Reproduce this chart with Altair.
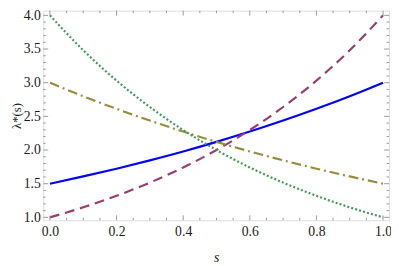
import altair as alt
import pandas as pd

s_vals = [0.0, 0.1, 0.2, 0.3, 0.4, 0.5, 0.6, 0.7, 0.8, 0.9, 1.0]
blue_vals = [1.5, 1.608, 1.723, 1.847, 1.979, 2.121, 2.274, 2.437, 2.612, 2.799, 3.0]
purple_vals = [1.0, 1.149, 1.320, 1.516, 1.741, 2.0, 2.297, 2.639, 3.031, 3.482, 4.0]
olive_vals = [3.0, 2.799, 2.612, 2.437, 2.274, 2.121, 1.979, 1.847, 1.723, 1.608, 1.5]
green_vals = [4.0, 3.482, 3.031, 2.639, 2.297, 2.0, 1.741, 1.516, 1.320, 1.149, 1.0]

x_major = [0.0, 0.2, 0.4, 0.6, 0.8, 1.0]
x_minor = [0.05, 0.1, 0.15, 0.25, 0.3, 0.35, 0.45, 0.5, 0.55, 0.65, 0.7, 0.75, 0.85, 0.9, 0.95]
y_major = [1.0, 1.5, 2.0, 2.5, 3.0, 3.5, 4.0]
y_minor = [1.1, 1.2, 1.3, 1.4, 1.6, 1.7, 1.8, 1.9, 2.1, 2.2, 2.3, 2.4,
           2.6, 2.7, 2.8, 2.9, 3.1, 3.2, 3.3, 3.4, 3.6, 3.7, 3.8, 3.9]

W, H = 353, 214
xs = alt.Scale(domain=[-0.02, 1.018], nice=False, zero=False)
ys = alt.Scale(domain=[0.957, 4.07], nice=False, zero=False)

series = [
    (blue_vals, "#0000FF", []),
    (purple_vals, "#993D71", [10, 6]),
    (olive_vals, "#998C3D", [10, 4, 2, 4]),
    (green_vals, "#3D9954", [2, 2.2]),
]

FONT = "Liberation Serif, Times New Roman, DejaVu Serif, serif"

axis_x = alt.Axis(values=x_major, format=".1f", ticks=False, domain=False, grid=False,
                  labelPadding=5, title="s", titleFontStyle="italic",
                  titleY=38, titleBaseline="middle")
axis_y = alt.Axis(values=y_major, format=".1f", ticks=False, domain=False, grid=False,
                  labelPadding=3, title="λ*(s)", titleX=-27, titleY=H / 2,
                  titleAngle=270, titleAlign="center", titleBaseline="middle",
                  titleFontSize=13)

layers = []
for i, (vals, col, dash) in enumerate(series):
    df = pd.DataFrame({"s": s_vals, "v": vals})
    kw = dict(color=col, strokeWidth=2.2, interpolate="monotone", clip=True)
    if dash:
        kw["strokeDash"] = dash
    enc = dict(x=alt.X("s:Q", scale=xs, axis=axis_x), y=alt.Y("v:Q", scale=ys, axis=axis_y))
    layers.append(alt.Chart(df).mark_line(**kw).encode(**enc))

tick_col = "#999999"
def xticks(vals, length):
    df = pd.DataFrame({"t": vals})
    bottom = alt.Chart(df).mark_rule(color=tick_col, strokeWidth=1).encode(
        x=alt.X("t:Q", scale=xs, axis=axis_x), y=alt.value(H), y2=alt.value(H - length))
    top = alt.Chart(df).mark_rule(color=tick_col, strokeWidth=1).encode(
        x=alt.X("t:Q", scale=xs, axis=axis_x), y=alt.value(0), y2=alt.value(length))
    return [bottom, top]

def yticks(vals, length):
    df = pd.DataFrame({"t": vals})
    left = alt.Chart(df).mark_rule(color=tick_col, strokeWidth=1).encode(
        y=alt.Y("t:Q", scale=ys, axis=axis_y), x=alt.value(0), x2=alt.value(length))
    right = alt.Chart(df).mark_rule(color=tick_col, strokeWidth=1).encode(
        y=alt.Y("t:Q", scale=ys, axis=axis_y), x=alt.value(W), x2=alt.value(W - length))
    return [left, right]

ticks = xticks(x_major, 5) + xticks(x_minor, 2.5) + yticks(y_major, 5) + yticks(y_minor, 2.5)

chart = alt.layer(*layers, *ticks).properties(
    width=W, height=H,
    autosize=alt.AutoSizeParams(type="none"),
    padding={"left": 36, "top": 0, "right": 2, "bottom": 44},
).configure_view(stroke="#999999", strokeWidth=1).configure(
    background="white", font=FONT
).configure_axis(
    labelFont=FONT, labelFontSize=14, labelColor="#1a1a1a",
    titleFont=FONT, titleFontSize=14, titleFontWeight="normal",
    titleColor="#1a1a1a",
)

chart.save("out.html", embed_options={"renderer": "svg", "actions": False})
